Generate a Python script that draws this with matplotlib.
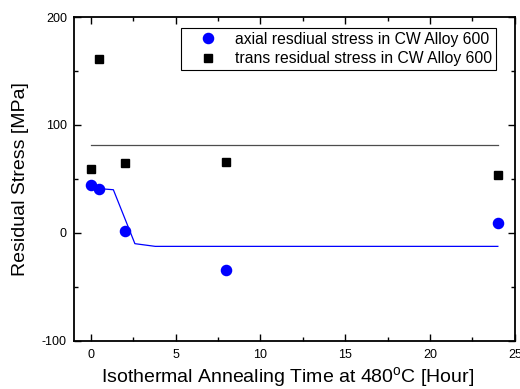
import numpy as np
import matplotlib
matplotlib.use("Agg")
import matplotlib.pyplot as plt
from matplotlib.ticker import MultipleLocator

plt.rcParams.update({
    "font.family": ["Liberation Sans", "DejaVu Sans"],
    "mathtext.fontset": "custom",
    "mathtext.rm": "Liberation Sans",
    "axes.unicode_minus": False,
})

# datos
t_axial = [0, 0.5, 2, 8, 24]
s_axial = [44, 41, 2, -34, 9]
t_trans = [0, 0.5, 2, 8, 24]
s_trans = [59, 161, 65, 66, 54]

# curva azul (ajuste) y línea horizontal negra
t_fit = [0, 0.5, 1.33, 2.6, 3.8, 24]
s_fit = [44, 41, 40, -10, -12.5, -12.5]
t_ref = [0, 24]
s_ref = [81, 81]

fig = plt.figure(figsize=(5.2, 3.89), dpi=100)
ax = fig.add_axes([0.142, 0.124, 0.848, 0.832])

ax.plot(t_fit, s_fit, "-", color="blue", lw=0.9)
ax.plot(t_ref, s_ref, "-", color="0.3", lw=0.9)
ax.plot(t_axial, s_axial, "o", color="blue", ms=7.3, ls="none",
        label="axial resdiual stress in CW Alloy 600")
ax.plot(t_trans, s_trans, "s", color="black", ms=6.3, ls="none",
        label="trans residual stress in CW Alloy 600")

ax.set_xlim(-1, 25); ax.set_ylim(-100, 200)
ax.xaxis.set_major_locator(MultipleLocator(5)); ax.xaxis.set_minor_locator(MultipleLocator(2.5))
ax.yaxis.set_major_locator(MultipleLocator(100)); ax.yaxis.set_minor_locator(MultipleLocator(50))
ax.tick_params(which="both", direction="in", top=True, right=True, labelsize=9, width=1.0)
ax.tick_params(which="major", length=5)
ax.tick_params(which="minor", length=3)
ax.tick_params(axis="x", pad=6)
ax.tick_params(axis="y", pad=5)
for sp in ax.spines.values():
    sp.set_linewidth(1.3)

ax.set_xlabel(r"Isothermal Annealing Time at 480$^{\mathrm{o}}$C [Hour]", fontsize=14)
ax.xaxis.set_label_coords(0.485, -0.075)
ax.set_ylabel("Residual Stress [MPa]", fontsize=14, labelpad=9)

leg = ax.legend(loc="upper right", fontsize=11.3, fancybox=False, framealpha=1,
                edgecolor="black", handletextpad=0.2, borderpad=0.25,
                labelspacing=0.3, handlelength=3.0, borderaxespad=0,
                bbox_to_anchor=(0.957, 0.967))
leg.get_frame().set_linewidth(0.8)

fig.savefig("out.png", dpi=100)
